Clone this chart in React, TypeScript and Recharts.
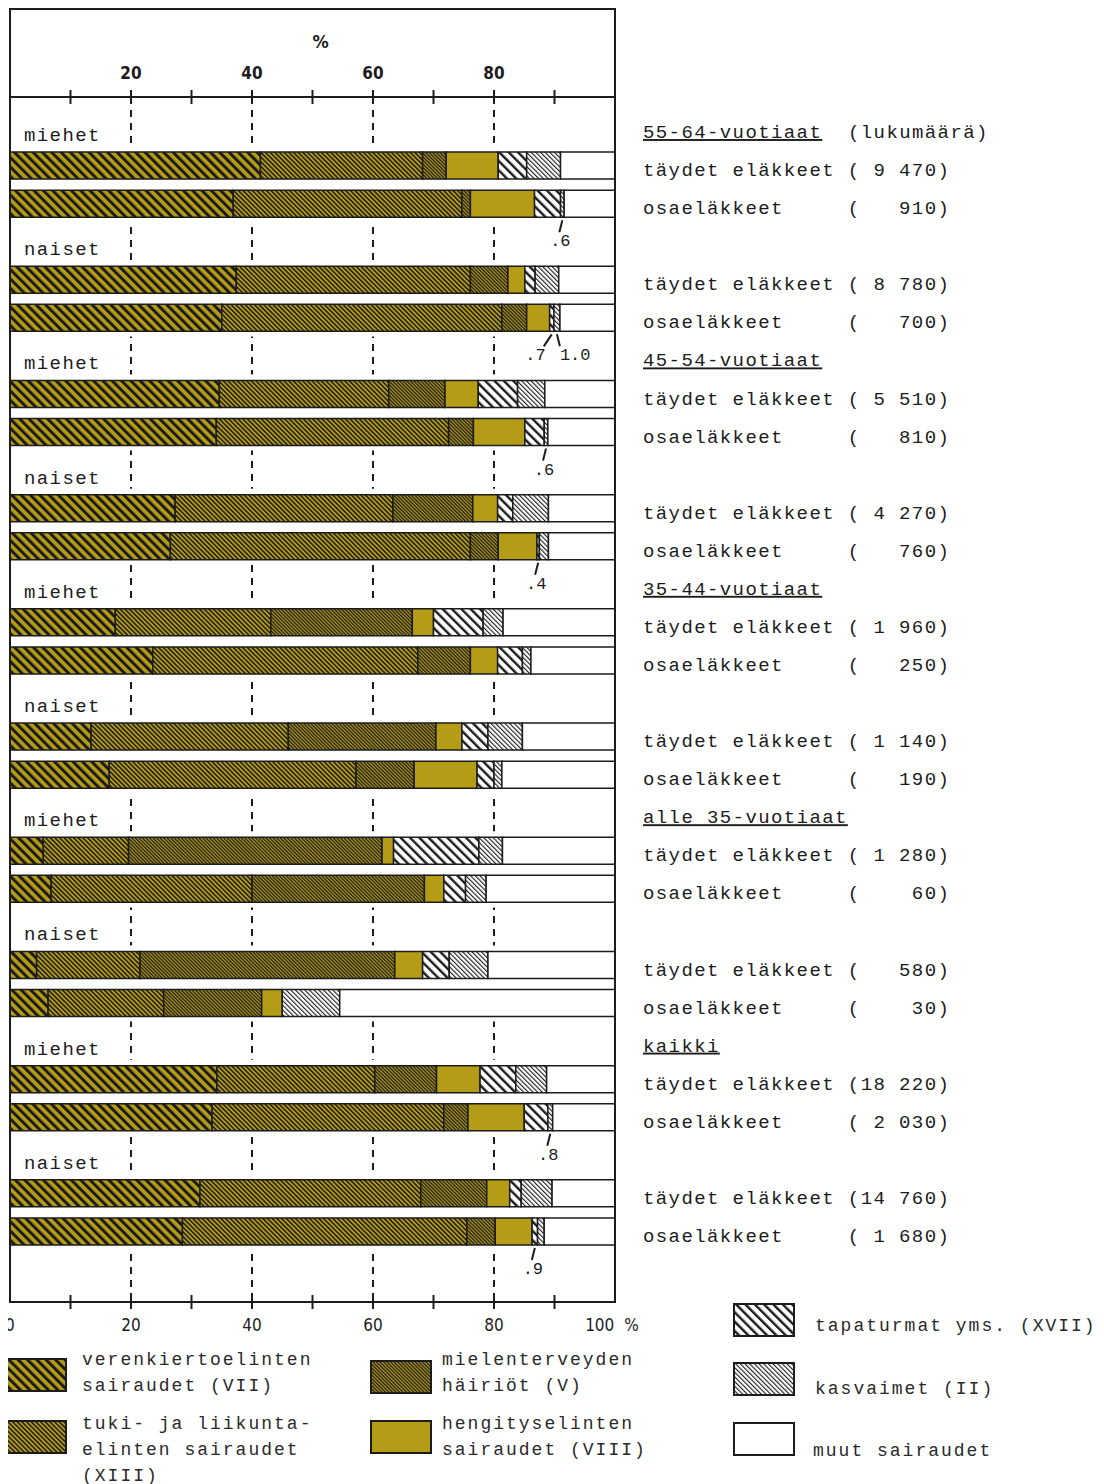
import { BarChart, Bar, XAxis, YAxis, CartesianGrid, LabelList, Legend, ReferenceArea } from 'recharts'

const INK = '#1c1c1c'
const GOLD = '#b59c16'
const MONO = "'Liberation Mono', 'DejaVu Sans Mono', monospace"
const NARROW = "'Liberation Sans Narrow', 'DejaVu Sans Condensed', 'Liberation Sans', sans-serif"

// ryhmät (sukupuoli) ja ikäryhmien otsikot oikealla
const groups = ['miehet', 'naiset', 'miehet', 'naiset', 'miehet', 'naiset', 'miehet', 'naiset', 'miehet', 'naiset']
const headers = ['55-64-vuotiaat', '', '45-54-vuotiaat', '', '35-44-vuotiaat', '', 'alle 35-vuotiaat', '', 'kaikki', '']
const kinds = ['täydet eläkkeet', 'osaeläkkeet']
const counts = ['9 470', '910', '8 780', '700', '5 510', '810', '4 270', '760', '1 960', '250',
  '1 140', '190', '1 280', '60', '580', '30', '18 220', '2 030', '14 760', '1 680']

// osuudet (%) palkeittain, ylhäältä alas
const vii = [41.4, 36.9, 37.4, 35.0, 34.6, 34.1, 27.3, 26.5, 17.4, 23.6, 13.4, 16.4, 5.5, 6.8, 4.4, 6.3, 34.2, 33.4, 31.4, 28.5]
const xiii = [26.8, 37.8, 38.7, 46.3, 28.0, 38.4, 36.0, 49.6, 25.7, 43.8, 32.6, 40.8, 14.1, 33.2, 17.1, 19.1, 26.1, 38.3, 36.5, 47.0]
const v = [3.9, 1.4, 6.2, 4.1, 9.3, 4.1, 13.2, 4.6, 23.4, 8.7, 24.4, 9.6, 41.9, 28.5, 42.1, 16.2, 10.2, 4.0, 10.9, 4.7]
const viii = [8.6, 10.6, 2.8, 3.8, 5.5, 8.5, 4.1, 6.4, 3.5, 4.5, 4.3, 10.4, 1.9, 3.2, 4.6, 3.4, 7.2, 9.3, 3.8, 6.1]
const xvii = [4.7, 4.3, 1.7, 0.7, 6.5, 3.2, 2.5, 0.4, 8.2, 4.1, 4.3, 2.8, 14.1, 3.6, 4.4, 0.0, 5.9, 3.9, 1.9, 0.9]
const ii = [5.6, 0.6, 3.9, 1.0, 4.5, 0.6, 5.9, 1.5, 3.3, 1.4, 5.7, 1.3, 3.9, 3.4, 6.4, 9.5, 5.1, 0.8, 5.1, 1.1]
const muut = [9.0, 8.4, 9.3, 9.1, 11.6, 11.1, 11.0, 11.0, 18.5, 13.9, 15.3, 18.7, 18.6, 21.3, 21.0, 45.5, 11.3, 10.3, 10.4, 11.7]

// pienet arvot merkitty palkin alle
const notesXVII = ['', '', '', '.7', '', '', '', '.4', '', '', '', '', '', '', '', '.0', '', '', '', '.9']
const notesII = ['', '.6', '', '1.0', '', '.6', '', '', '', '', '', '', '', '', '', '', '', '.8', '', '']

const topTicks = [10, 20, 30, 40, 50, 60, 70, 80, 90]
const bottomTicks = [0, 10, 20, 30, 40, 50, 60, 70, 80, 90, 100]

const series = [
  { key: 'VII', label: ['verenkiertoelinten', 'sairaudet (VII)'], bg: GOLD, pitch: 6.6, thick: 3 },
  { key: 'XIII', label: ['tuki- ja liikunta-', 'elinten sairaudet', '(XIII)'], bg: GOLD, pitch: 3.3, thick: 1.5 },
  { key: 'V', label: ['mielenterveyden', 'häiriöt (V)'], bg: GOLD, pitch: 2.5, thick: 1.3 },
  { key: 'VIII', label: ['hengityselinten', 'sairaudet (VIII)'], bg: GOLD, pitch: 0, thick: 0 },
  { key: 'XVII', label: ['tapaturmat yms. (XVII)'], bg: '#ffffff', pitch: 6.6, thick: 2.4 },
  { key: 'II', label: ['kasvaimet (II)'], bg: '#ffffff', pitch: 3.3, thick: 1.1 },
  { key: 'muut', label: ['muut sairaudet'], bg: '#ffffff', pitch: 0, thick: 0 },
]
const values: Record<string, number[]> = { VII: vii, XIII: xiii, V: v, VIII: viii, XVII: xvii, II: ii, muut }

const rows: any[] = []
groups.forEach((g, gi) => {
  rows.push({ id: `g${gi}`, group: g, header: headers[gi] })
  for (let k = 0; k < 2; k++) {
    const i = gi * 2 + k
    const row: any = { id: `b${i}`, kind: kinds[k], count: counts[i], nXVII: notesXVII[i], nII: notesII[i] }
    series.forEach((s) => { row[s.key] = values[s.key][i] })
    rows.push(row)
  }
})
const rowById: Record<string, any> = {}
rows.forEach((r) => { rowById[r.id] = r })

const fillOf = (prefix: string, s: any) => (s.pitch ? `url(#${prefix}-${s.key})` : s.bg)

const Patterns = ({ prefix }: { prefix: string }) => (
  <defs>
    {series.filter((s) => s.pitch).map((s) => (
      <pattern key={s.key} id={`${prefix}-${s.key}`} patternUnits="userSpaceOnUse" width={s.pitch} height={s.pitch} patternTransform="rotate(-45)">
        <rect width={s.pitch} height={s.pitch} fill={s.bg} />
        <rect width={s.thick} height={s.pitch} fill={INK} />
      </pattern>
    ))}
  </defs>
)

const nbsp = (t: string) => t.replace(/ /g, '\u00a0')

const LeftTick = ({ x, y, payload }: any) => {
  const r = rowById[payload.value]
  if (!r || !r.group) return null
  return (
    <text x={x + 14} y={y + 14} fontFamily={MONO} fontSize={19} letterSpacing={1.4} fill={INK}>
      {r.group}
    </text>
  )
}

const RightTick = ({ x, y, payload }: any) => {
  const r = rowById[payload.value]
  if (!r) return null
  const tx = x + 28
  if (r.group !== undefined) {
    if (!r.header) return null
    return (
      <text x={tx} y={y + 11} fontFamily={MONO} fontSize={19} letterSpacing={1.4} fill={INK}>
        <tspan style={{ textDecoration: 'underline' }}>{r.header}</tspan>
        {payload.index === 0 && <tspan x={tx + 205}>(lukumäärä)</tspan>}
      </text>
    )
  }
  const txt = `${r.kind.padEnd(16, ' ')}(${r.count.padStart(6, ' ')})`
  return (
    <text x={tx} y={y + 11} fontFamily={MONO} fontSize={19} letterSpacing={1.4} fill={INK}>
      {nbsp(txt)}
    </text>
  )
}

const TopTick = ({ x, y, payload }: any) => (
  <g>
    <line x1={x} x2={x} y1={y - 7} y2={y + 7} stroke={INK} strokeWidth={2} />
    {payload.value % 20 === 0 && (
      <text x={x} y={y - 18} textAnchor="middle" fontFamily={NARROW} fontWeight={700} fontSize={17} fill={INK}>
        {payload.value}
      </text>
    )}
    {payload.value === 50 && (
      <text x={x + 8} y={y - 49} textAnchor="middle" fontFamily={NARROW} fontWeight={700} fontSize={18} fill={INK}>
        %
      </text>
    )}
  </g>
)

const BottomTick = ({ x, y, payload }: any) => {
  const val = payload.value
  return (
    <g>
      {val > 0 && val < 100 && <line x1={x} x2={x} y1={y - 7} y2={y + 7} stroke={INK} strokeWidth={2} />}
      {val === 0 && (
        <text x={x - 5} y={y + 29} textAnchor="start" fontFamily={NARROW} fontSize={17} fill={INK}>0</text>
      )}
      {val % 20 === 0 && val > 0 && val < 100 && (
        <text x={x} y={y + 29} textAnchor="middle" fontFamily={NARROW} fontSize={17} fill={INK}>{val}</text>
      )}
      {val === 100 && (
        <text x={x - 3} y={y + 29} textAnchor="middle" fontFamily={NARROW} fontSize={17} fill={INK}>
          100<tspan dx={10}>%</tspan>
        </text>
      )}
    </g>
  )
}

// "|L" / "|R": two notes side by side under the same bar
const noteXVIIKey = (r: any) => (r.nXVII ? (r.nII ? `${r.nXVII}|L` : r.nXVII) : '')
const noteIIKey = (r: any) => (r.nII ? (r.nXVII ? `${r.nII}|R` : r.nII) : '')

const Note = (props: any) => {
  const { value } = props
  if (!value) return null
  const [text, side] = String(value).split('|')
  const vb = props.viewBox ?? props
  const { x, y, width, height } = vb
  const cx = x + width / 2
  const by = y + height
  let lx = cx - 3
  let tx = cx - 2
  let anchor: any = 'middle'
  if (side === 'L') { lx = cx - 8; tx = cx - 6; anchor = 'end' }
  if (side === 'R') { lx = cx + 3; tx = cx + 3; anchor = 'start' }
  return (
    <g>
      <line x1={cx} y1={by + 3} x2={lx} y2={by + 15} stroke={INK} strokeWidth={2} />
      <text x={tx} y={by + 29} textAnchor={anchor} fontFamily={MONO} fontSize={17} fill={INK}>{text}</text>
    </g>
  )
}

const Swatch = ({ s, left, top, w, h }: any) => (
  <svg width={w} height={h} style={{ position: 'absolute', left, top }}>
    <Patterns prefix="lg" />
    <rect x={1} y={1} width={w - 2} height={h - 2} fill={fillOf('lg', s)} stroke={INK} strokeWidth={2} />
  </svg>
)

// legend placement, relative to the legend box
const legendPos: Record<string, any> = {
  XVII: { sx: 733, sy: 5, tx: 815, ty: 15 },
  II: { sx: 733, sy: 64, tx: 815, ty: 78 },
  muut: { sx: 733, sy: 124, tx: 813, ty: 140 },
  VII: { sx: 5, sy: 60, tx: 82, ty: 49 },
  XIII: { sx: 5, sy: 122, tx: 82, ty: 113 },
  V: { sx: 370, sy: 62, tx: 442, ty: 49 },
  VIII: { sx: 370, sy: 122, tx: 442, ty: 113 },
}

const renderLegend = () => (
  <div style={{ position: 'relative', width: 1104, height: 186 }}>
    {series.map((s) => {
      const p = legendPos[s.key]
      return (
        <div key={s.key}>
          <Swatch s={s} left={p.sx} top={p.sy} w={62} h={34} />
          <div style={{ position: 'absolute', left: p.tx, top: p.ty, fontFamily: MONO, fontSize: 18, letterSpacing: 2, lineHeight: '26px', color: '#2a2a2a', whiteSpace: 'pre' }}>
            {s.label.map((l: string) => <div key={l}>{l}</div>)}
          </div>
        </div>
      )
    })}
  </div>
)

export default function App() {
  return (
    <div style={{ position: 'relative', width: 1104, height: 1484, margin: '-8px 0 0 -8px' }}>
      <BarChart
        width={1104}
        height={1484}
        data={rows}
        layout="vertical"
        barSize={27}
        margin={{ top: 0, right: 0, bottom: 142, left: 9 }}
      >
        <Patterns prefix="pt" />
        <CartesianGrid xAxisId="bottom" yAxisId="left" horizontal={false} verticalValues={[20, 40, 60, 80]} stroke={INK} strokeWidth={2} strokeDasharray="7 6" />
        <XAxis xAxisId="top" orientation="top" type="number" domain={[0, 100]} ticks={topTicks} height={97} allowDataOverflow
          axisLine={{ stroke: INK, strokeWidth: 2 }} tickLine={false} tickSize={0} tickMargin={0} tick={<TopTick />} interval={0} />
        <XAxis xAxisId="bottom" orientation="bottom" type="number" domain={[0, 100]} ticks={bottomTicks} height={40} allowDataOverflow
          axisLine={{ stroke: INK, strokeWidth: 2 }} tickLine={false} tickSize={0} tickMargin={0} tick={<BottomTick />} interval={0} />
        <YAxis yAxisId="left" type="category" dataKey="id" width={1} padding={{ top: 11, bottom: 52 }}
          axisLine={false} tickLine={false} tickSize={0} tickMargin={0} tick={<LeftTick />} interval={0} />
        <YAxis yAxisId="right" orientation="right" type="category" dataKey="id" width={489} padding={{ top: 11, bottom: 52 }}
          axisLine={false} tickLine={false} tickSize={0} tickMargin={0} tick={<RightTick />} interval={0} />
        {/* no dashed lines between the two bars of a pair */}
        {groups.map((g, gi) => (
          <ReferenceArea key={`pair${gi}`} xAxisId="bottom" yAxisId="left" x1={0} x2={100} y1={`b${gi * 2}`} y2={`b${gi * 2 + 1}`}
            fill="#ffffff" fillOpacity={1} stroke="none" ifOverflow="visible" />
        ))}
        {series.map((s) => (
          <Bar key={s.key} dataKey={s.key} stackId="a" xAxisId="bottom" yAxisId="left" fill={fillOf('pt', s)}
            stroke={INK} strokeWidth={1.5} isAnimationActive={false}>
            {s.key === 'XVII' && <LabelList dataKey={noteXVIIKey} content={<Note />} />}
            {s.key === 'II' && <LabelList dataKey={noteIIKey} content={<Note />} />}
          </Bar>
        ))}
        {/* empty series so that the top scale is built */}
        <Bar dataKey="topScale" xAxisId="top" yAxisId="right" fill="none" legendType="none" isAnimationActive={false} />
        <Legend layout="horizontal" verticalAlign="middle" align="center" content={renderLegend}
          wrapperStyle={{ left: 0, top: 1298, width: 1104, height: 186 }} />
      </BarChart>
      <div style={{ position: 'absolute', left: 9, top: 8, width: 607, height: 1295, borderTop: `2px solid ${INK}`, borderLeft: `2px solid ${INK}`, borderRight: `2px solid ${INK}`, boxSizing: 'border-box', pointerEvents: 'none' }} />
    </div>
  )
}
